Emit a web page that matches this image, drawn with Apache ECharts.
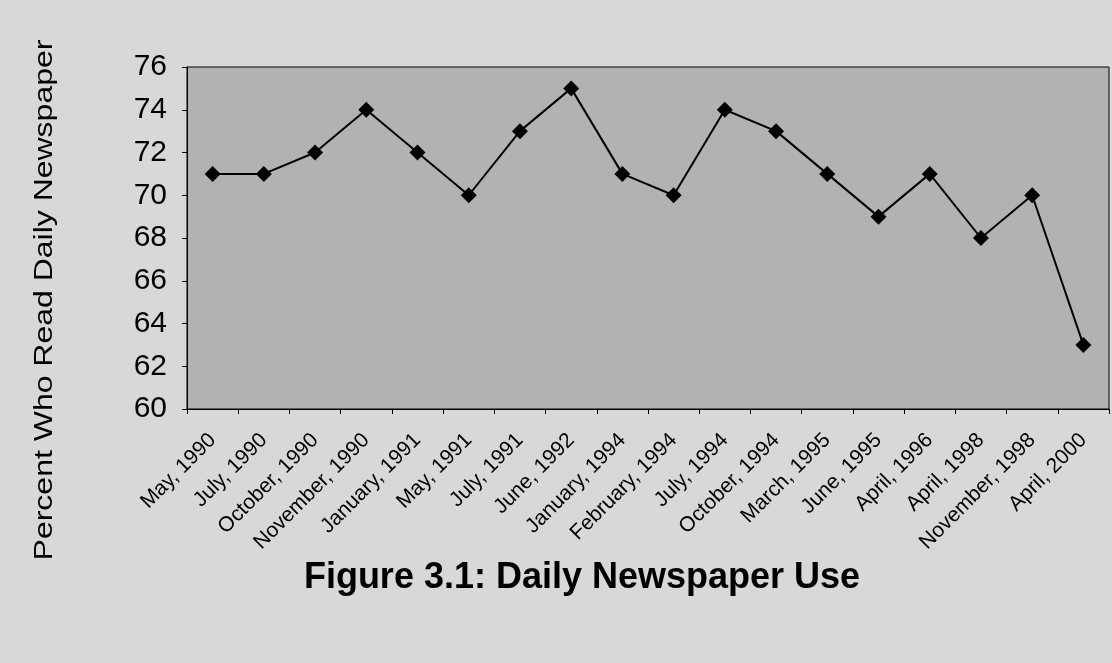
<!DOCTYPE html>
<html>
<head>
<meta charset="utf-8">
<script src="https://cdn.jsdelivr.net/npm/echarts@6/dist/echarts.min.js"></script>
<style>
  html, body { margin: 0; padding: 0; background: #d8d8d8; }
  #main { width: 1112px; height: 663px; }
</style>
</head>
<body>
<div id="main"></div>
<script>
// survey dates and percent reading a daily newspaper
const categories = ['May, 1990', 'July, 1990', 'October, 1990', 'November, 1990', 'January, 1991',
  'May, 1991', 'July, 1991', 'June, 1992', 'January, 1994', 'February, 1994', 'July, 1994',
  'October, 1994', 'March, 1995', 'June, 1995', 'April, 1996', 'April, 1998', 'November, 1998', 'April, 2000'];
const percentRead = [71, 71, 72, 74, 72, 70, 73, 75, 71, 70, 74, 73, 71, 69, 71, 68, 70, 63];
const yTicks = [60, 62, 64, 66, 68, 70, 72, 74, 76];

const FONT = 'Liberation Sans, Arial, sans-serif';

const chart = echarts.init(document.getElementById('main'));
chart.setOption({
  backgroundColor: '#d8d8d8',
  textStyle: { fontFamily: FONT },
  graphic: [
    {
      type: 'text', x: 582, y: 578,
      style: {
        text: 'Figure 3.1: Daily Newspaper Use',
        font: 'bold 36px ' + FONT, fill: '#000',
        textAlign: 'center', textVerticalAlign: 'middle'
      }
    },
    {
      // scan is stretched, so the axis title is scaled along its length
      type: 'text', x: 45, y: 300, rotation: Math.PI / 2, scaleX: 1.23,
      style: {
        text: 'Percent Who Read Daily Newspaper',
        font: '26px ' + FONT, fill: '#000',
        textAlign: 'center', textVerticalAlign: 'middle'
      }
    }
  ],
  grid: {
    left: 187, right: 3, top: 67, bottom: 254,
    show: true, backgroundColor: '#b2b2b2', borderColor: '#000', borderWidth: 1
  },
  xAxis: {
    type: 'category',
    data: categories,
    boundaryGap: true,
    axisLine: { lineStyle: { color: '#000' } },
    axisTick: { show: true, length: 5, lineStyle: { color: '#000' } },
    axisLabel: { rotate: 45, interval: 0, fontSize: 21, color: '#000', margin: 28 }
  },
  yAxis: {
    type: 'value',
    min: yTicks[0], max: yTicks[yTicks.length - 1], interval: 2,
    axisLine: { show: true, lineStyle: { color: '#000' } },
    axisTick: { show: true, length: 5, lineStyle: { color: '#000' } },
    splitLine: { show: false },
    axisLabel: { fontSize: 30, color: '#000', margin: 20 }
  },
  series: [{
    type: 'line',
    data: percentRead,
    symbol: 'diamond',
    symbolSize: 16,
    itemStyle: { color: '#000' },
    lineStyle: { color: '#000', width: 2 }
  }]
});
</script>
</body>
</html>
